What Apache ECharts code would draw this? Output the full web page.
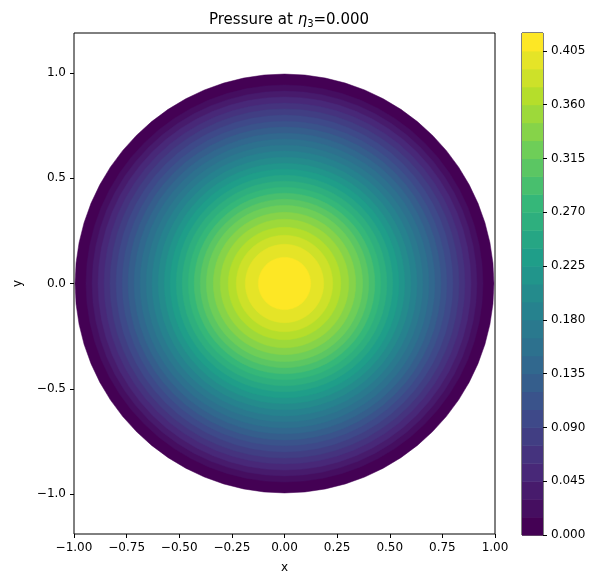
<!DOCTYPE html>
<html>
<head>
<meta charset="UTF-8">
<script src="https://cdn.jsdelivr.net/npm/echarts@6/dist/echarts.min.js"></script>
</head>
<body style="margin:0;background:#fff">
<div id="main" style="width:606px;height:587px"></div>
<script>
  // contour levels (band lower edges), step 0.015
  const levels = [0.000, 0.015, 0.030, 0.045, 0.060, 0.075, 0.090, 0.105, 0.120, 0.135,
    0.150, 0.165, 0.180, 0.195, 0.210, 0.225, 0.240, 0.255, 0.270, 0.285,
    0.300, 0.315, 0.330, 0.345, 0.360, 0.375, 0.390, 0.405];
  // outer radius of each band (band 0 = outer rim)
  const bandRadius = [0.995, 0.943, 0.914, 0.886, 0.857, 0.829, 0.800, 0.771, 0.743, 0.714,
    0.686, 0.657, 0.629, 0.600, 0.571, 0.543, 0.514, 0.486, 0.457, 0.429,
    0.400, 0.371, 0.338, 0.305, 0.267, 0.229, 0.186, 0.124];
  const xTicks = [-1, -0.75, -0.5, -0.25, 0, 0.25, 0.5, 0.75, 1];
  const yTicks = [-1, -0.5, 0, 0.5, 1];

  const viridis = ['#440154', '#482878', '#3e4989', '#31688e', '#26828e', '#1f9e89', '#35b779', '#6ece58', '#b5de2b', '#fde725'];
  function hex(c) { return [1, 3, 5].map(i => parseInt(c.substr(i, 2), 16)); }
  function cmap(t) {
    const p = t * (viridis.length - 1), i = Math.min(Math.floor(p), viridis.length - 2), f = p - i;
    const a = hex(viridis[i]), b = hex(viridis[i + 1]);
    return 'rgb(' + a.map((v, k) => Math.round(v + (b[k] - v) * f)).join(',') + ')';
  }
  const bandColor = levels.map((l, i) => cmap(i / (levels.length - 1)));
  const fmt = (v, d) => v.toFixed(d).replace('-', '\u2212');

  const myChart = echarts.init(document.getElementById('main'));
  const font = 'DejaVu Sans';
  const tick = { show: true, length: 4, lineStyle: { color: '#000' } };
  const option = {
    animation: false,
    textStyle: { fontFamily: font },
    title: {
      text: 'Pressure at {i|η}{s|3}=0.000', left: 284, top: 6, textAlign: 'center',
      textStyle: {
        fontSize: 15, fontWeight: 'normal', color: '#000', fontFamily: font,
        rich: { i: { fontSize: 15, fontStyle: 'italic', fontFamily: font }, s: { fontSize: 10, verticalAlign: 'bottom', padding: [8, 0, 0, 0], fontFamily: font } }
      }
    },
    grid: [
      { left: 74, top: 33, width: 421, height: 501, show: true, borderColor: '#000', borderWidth: 1, backgroundColor: 'transparent' },
      { left: 522, top: 33, width: 21, height: 502, show: true, borderColor: '#000', borderWidth: 1, backgroundColor: 'transparent' }
    ],
    xAxis: [
      {
        gridIndex: 0, type: 'value', min: -1, max: 1, name: 'x', nameLocation: 'middle', nameGap: 28,
        nameTextStyle: { fontSize: 12, color: '#000' },
        axisLine: { show: false, onZero: false }, splitLine: { show: false },
        axisTick: Object.assign({ customValues: xTicks }, tick),
        axisLabel: { color: '#000', fontSize: 12, customValues: xTicks, formatter: v => fmt(v, 2) }
      },
      { gridIndex: 1, type: 'category', data: ['c'], show: false }
    ],
    yAxis: [
      {
        gridIndex: 0, type: 'value', min: -1.19, max: 1.19, name: 'y', nameLocation: 'middle', nameGap: 50,
        nameTextStyle: { fontSize: 12, color: '#000' },
        axisLine: { show: false, onZero: false }, splitLine: { show: false },
        axisTick: Object.assign({ customValues: yTicks }, tick),
        axisLabel: { color: '#000', fontSize: 12, customValues: yTicks, formatter: v => fmt(v, 1) }
      },
      {
        gridIndex: 1, type: 'value', min: 0, max: 0.42, interval: 0.045, position: 'right',
        axisLine: { show: false, onZero: false }, splitLine: { show: false },
        axisTick: tick,
        axisLabel: { color: '#000', fontSize: 12, showMaxLabel: false, formatter: v => fmt(v, 3) }
      }
    ],
    series: [
      {
        type: 'custom', xAxisIndex: 0, yAxisIndex: 0, clip: true,
        data: bandRadius.map((r, i) => [r, i]),
        renderItem: function (params, api) {
          const r = api.value(0), i = api.value(1);
          const pts = [];
          for (let k = 0; k < 64; k++) {
            const a = k / 64 * Math.PI * 2;
            pts.push(api.coord([r * Math.cos(a), r * Math.sin(a)]));
          }
          return { type: 'polygon', shape: { points: pts }, style: { fill: bandColor[i], stroke: bandColor[i], lineWidth: 0.5 } };
        }
      },
      {
        type: 'custom', xAxisIndex: 1, yAxisIndex: 1,
        data: levels.map((l, i) => [0, l, i]),
        renderItem: function (params, api) {
          const l = api.value(1), i = api.value(2);
          const p0 = api.coord([0, l]), p1 = api.coord([0, l + 0.015]);
          const w = api.size([1, 0])[0];
          return { type: 'rect', shape: { x: p0[0] - w / 2, y: p1[1], width: w, height: p0[1] - p1[1] + 0.5 }, style: { fill: bandColor[i] } };
        }
      }
    ]
  };
  myChart.setOption(option);
</script>
</body>
</html>
